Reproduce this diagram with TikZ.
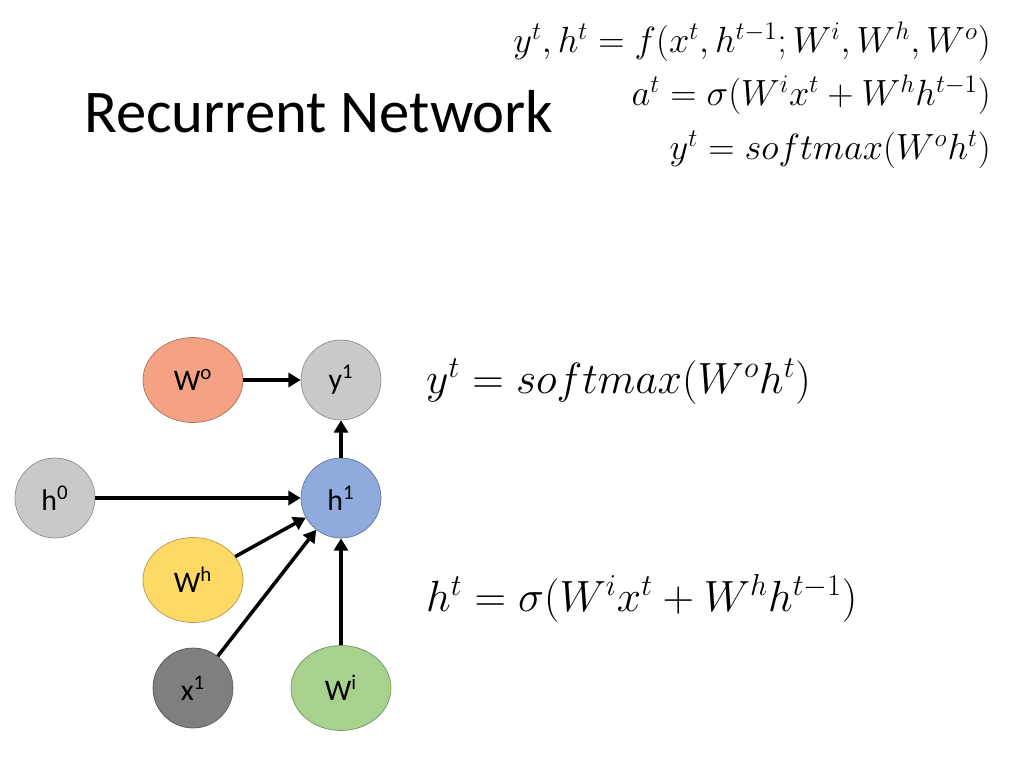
\documentclass[tikz,border=0pt]{standalone}
\usepackage{fontspec}
\setmainfont{Carlito}
\usepackage{tikz}
\usetikzlibrary{arrows.meta,shapes.geometric}

\begin{document}
\begin{tikzpicture}[x=0.02cm,y=-0.02cm,
                    unit/.style={
                        ellipse,
                        draw=#1!70!black,
                        fill=#1,
                        minimum width=1.6cm,
                        minimum height=1.6cm,
                        inner sep=0pt,
                        font=\fontsize{17}{20}\selectfont
                    },
                    wide unit/.style={unit=#1, minimum width=2cm, minimum height=1.7cm},
                    link/.style={draw, line width=2pt, -{Triangle[length=7pt,width=8pt]}}
                ]
    \useasboundingbox (0,0) rectangle (1024,768);
    \definecolor{wocol}{HTML}{F4A283}
    \definecolor{greycol}{HTML}{C9C9C9}
    \definecolor{hcol}{HTML}{8FAADC}
    \definecolor{whcol}{HTML}{FFD966}
    \definecolor{xcol}{HTML}{7F7F7F}
    \definecolor{wicol}{HTML}{A9D18E}

    % title and equations
    \node[anchor=west, font=\fontsize{34.5}{40}\selectfont] (title) at (78,112) {Recurrent Network};
    \node[anchor=east, font=\fontsize{21.5}{25}\selectfont] (eqa) at (997,42) {$y^t,h^t=f\bigl(x^t,h^{t-1};W^i,W^h,W^o\bigr)$};
    \node[anchor=east, font=\fontsize{21.5}{25}\selectfont] (eqb) at (997,95) {$a^t=\sigma\bigl(W^ix^t+W^hh^{t-1}\bigr)$};
    \node[anchor=east, font=\fontsize{21.5}{25}\selectfont] (eqc) at (997,150) {$y^t=softmax(W^oh^t)$};

    % network
    \node[wide unit=wocol] (wo) at (193,380) {W\textsuperscript{o}};
    \node[unit=greycol] (y1) at (341,380) {y\textsuperscript{1}};
    \node[unit=greycol] (h0) at (55,498) {h\textsuperscript{0}};
    \node[unit=hcol] (h1) at (341,498) {h\textsuperscript{1}};
    \node[wide unit=whcol] (wh) at (193,580) {W\textsuperscript{h}};
    \node[unit=xcol] (x1) at (193,688) {x\textsuperscript{1}};
    \node[wide unit=wicol] (wi) at (341,688) {W\textsuperscript{i}};

    \draw[link] (wo) -- (y1);
    \draw[link] (h1) -- (y1);
    \draw[link] (h0) -- (h1);
    \draw[link] (wh) -- (h1);
    \draw[link] (x1) -- (h1);
    \draw[link] (wi) -- (h1);

    \node[anchor=west, font=\fontsize{25.5}{30}\selectfont] (eqy) at (420,382) {$y^t=softmax(W^oh^t)$};
    \node[anchor=west, font=\fontsize{25.5}{30}\selectfont] (eqh) at (420,598) {$h^t=\sigma\bigl(W^ix^t+W^hh^{t-1}\bigr)$};
\end{tikzpicture}
\end{document}
